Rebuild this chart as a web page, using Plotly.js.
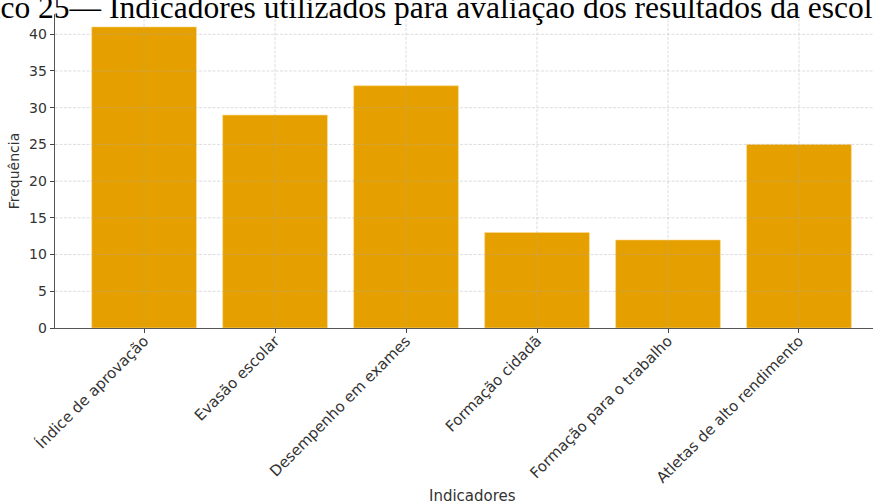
<!DOCTYPE html>
<html>
<head>
<meta charset="utf-8">
<script src="https://cdn.plot.ly/plotly-3.0.1.min.js"></script>
<style>html,body{margin:0;padding:0;background:#fff;overflow:hidden}#chart{width:873px;height:504px}</style>
</head>
<body>
<div id="chart"></div>
<script>
const categories = ["Índice de aprovação", "Evasão escolar", "Desempenho em exames", "Formação cidadã", "Formação para o trabalho", "Atletas de alto rendimento"];
const frequencies = [41, 29, 33, 13, 12, 25];
const yTicks = [0, 5, 10, 15, 20, 25, 30, 35, 40];
const titleText = "Gráfico 25— Indicadores utilizados para avaliação dos resultados da escola";
const xTitle = "Indicadores";
const yTitle = "Frequência";

const W = 873, H = 504, L = 55, T = 14, B = 504 - 328.3;
const plotW = W - L, plotH = H - T - B;
const px2paper = p => (p - L) / plotW;

const gridStyle = {color: "rgba(170,170,170,0.4)", width: 1, dash: "3px,1.5px"};
const shapes = [];
categories.forEach(c => shapes.push({type: "line", layer: "above", xref: "x", yref: "paper", x0: c, x1: c, y0: 0, y1: 1, line: gridStyle}));
yTicks.slice(1).forEach(v => shapes.push({type: "line", layer: "above", xref: "paper", yref: "y", x0: 0, x1: 1, y0: v, y1: v, line: gridStyle}));

const trace = {
  type: "bar",
  x: categories,
  y: frequencies,
  width: 0.8,
  marker: {color: "#E5A000", line: {color: "rgba(255,220,150,0.6)", width: 1}},
  hoverinfo: "skip"
};

const layout = {
  width: W, height: H,
  margin: {l: L, r: 0, t: T, b: B, pad: 0},
  paper_bgcolor: "#fff", plot_bgcolor: "#fff",
  showlegend: false,
  font: {family: "DejaVu Sans", size: 14, color: "#333"},
  xaxis: {
    type: "category",
    range: [-0.68, 5.565],
    tickangle: -45,
    ticks: "outside", ticklen: 4, tickcolor: "#444", tickwidth: 1,
    ticklabelstandoff: -7,
    showgrid: false, zeroline: false,
    showline: true, linecolor: "#555", linewidth: 1.3,
    tickfont: {family: "DejaVu Sans", size: 15, color: "#333"},
    automargin: false
  },
  yaxis: {
    range: [0, 42.76],
    tickvals: yTicks,
    ticktext: yTicks.map(String),
    ticks: "outside", ticklen: 4, tickcolor: "#444", tickwidth: 1,
    showgrid: false, zeroline: false,
    showline: true, linecolor: "#555", linewidth: 1.3,
    tickfont: {family: "DejaVu Sans", size: 14, color: "#333"},
    title: {text: yTitle, font: {family: "DejaVu Sans", size: 14, color: "#333"}, standoff: 6},
    automargin: false
  },
  shapes: shapes,
  annotations: [
    {text: titleText, xref: "paper", yref: "paper", x: px2paper(-68), y: 1 + 6.5 / plotH, xanchor: "left", yanchor: "middle", showarrow: false,
     font: {family: "Liberation Serif", size: 31.5, color: "#000"}},
    {text: xTitle, xref: "paper", yref: "paper", x: px2paper(472), y: -(496 - 328.3) / plotH, xanchor: "center", yanchor: "middle", showarrow: false,
     font: {family: "DejaVu Sans", size: 15, color: "#333"}}
  ]
};

Plotly.newPlot("chart", [trace], layout, {staticPlot: true, displayModeBar: false});
</script>
</body>
</html>
